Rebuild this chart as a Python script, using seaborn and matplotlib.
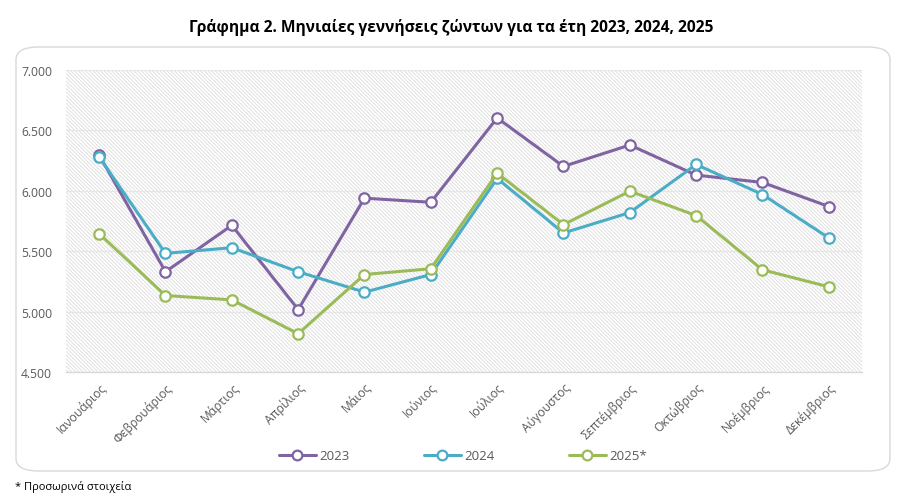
import numpy as np
import pandas as pd
import matplotlib
matplotlib.use("Agg")
import matplotlib.pyplot as plt
import seaborn as sns
from matplotlib.patches import FancyBboxPatch, Rectangle
from matplotlib.lines import Line2D
from matplotlib.ticker import FuncFormatter

months = ["Ιανουάριος", "Φεβρουάριος", "Μάρτιος", "Απρίλιος", "Μάιος", "Ιούνιος",
          "Ιούλιος", "Αύγουστος", "Σεπτέμβριος", "Οκτώβριος", "Νοέμβριος", "Δεκέμβριος"]
years = ["2023", "2024", "2025*"]
v2023 = [6295, 5330, 5714, 5017, 5939, 5905, 6603, 6202, 6379, 6130, 6069, 5870]
v2024 = [6280, 5482, 5529, 5330, 5161, 5307, 6102, 5651, 5820, 6218, 5969, 5610]
v2025 = [5645, 5133, 5097, 4817, 5307, 5355, 6146, 5720, 5997, 5795, 5346, 5205]
colors = ["#8064A2", "#4BACC6", "#9BBB59"]

df = pd.DataFrame({
    "month": months * 3,
    "value": v2023 + v2024 + v2025,
    "year": [years[0]] * 12 + [years[1]] * 12 + [years[2]] * 12,
})

sns.set_theme(style="white")
plt.rcParams["font.family"] = ["Open Sans", "DejaVu Sans"]
plt.rcParams["hatch.linewidth"] = 0.6
plt.rcParams["hatch.color"] = "#dcdcdc"

fig = plt.figure(figsize=(9.02, 5.02), dpi=100)
fig.patch.set_facecolor("white")

# rounded frame
W, H = 902, 502
box = FancyBboxPatch((16 / W, 1 - 472 / H), (890 - 16) / W, (472 - 48) / H,
                     boxstyle="round,pad=0,rounding_size=0.025",
                     transform=fig.transFigure, facecolor="white",
                     edgecolor="#d9d9d9", linewidth=1.0, zorder=-10)
fig.patches.append(box)

ax = fig.add_axes([66 / W, 1 - 373 / H, (862 - 66) / W, (373 - 71) / H])
ax.set_facecolor("none")
ax.set_zorder(1)

# hatched background
ax.add_patch(Rectangle((0, 0), 1, 1, transform=ax.transAxes, facecolor="white",
                       edgecolor="#dcdcdc", hatch="\\" * 9, linewidth=0, zorder=0))

sns.lineplot(data=df, x="month", y="value", hue="year", palette=colors,
             marker="o", linewidth=2.2, markersize=7.5, ax=ax, legend=False,
             sort=False, zorder=3)
for ln in ax.lines:
    ln.set_markerfacecolor("white")
    ln.set_markeredgecolor(ln.get_color())
    ln.set_markeredgewidth(1.6)

ax.set_xlim(-0.5, 11.5)
ax.set_ylim(4500, 7000)
ax.set_yticks(np.arange(4500, 7001, 500))
ax.yaxis.set_major_formatter(FuncFormatter(lambda v, p: f"{int(v):,}".replace(",", ".")))
ax.grid(axis="y", color="#e6e6e6", linewidth=0.9, zorder=1)
ax.grid(axis="x", visible=False)
ax.set_axisbelow(True)
for s in ["top", "right", "left"]:
    ax.spines[s].set_visible(False)
ax.spines["bottom"].set_color("#d9d9d9")
ax.spines["bottom"].set_linewidth(1.0)
ax.tick_params(axis="both", length=0, colors="#595959", labelsize=8.7)
ax.tick_params(axis="y", pad=10)
ax.set_xticks(range(12))
ax.set_xticklabels(months, rotation=45, ha="right", rotation_mode="anchor")
ax.tick_params(axis="x", pad=6)
ax.set_xlabel("")
ax.set_ylabel("")

fig.text(0.5, 1 - 28 / H, "Γράφημα 2. Μηνιαίες γεννήσεις ζώντων για τα έτη 2023, 2024, 2025",
         ha="center", va="center", fontsize=11.2, fontweight="bold", color="black")

handles = [Line2D([], [], color=c, linewidth=2.2, marker="o", markersize=7,
                  markerfacecolor="white", markeredgecolor=c, markeredgewidth=1.6)
           for c in colors]
fig.legend(handles, years, loc="center", bbox_to_anchor=(463 / W, 1 - 457 / H),
           ncol=3, frameon=False, fontsize=9.5, handlelength=2.8, handletextpad=0.3,
           columnspacing=5.6, labelcolor="#595959")

fig.text(15 / W, 1 - 487 / H, "* Προσωρινά στοιχεία", ha="left", va="center",
         fontsize=8, color="black")

fig.savefig("out.png", dpi=100, facecolor="white")
